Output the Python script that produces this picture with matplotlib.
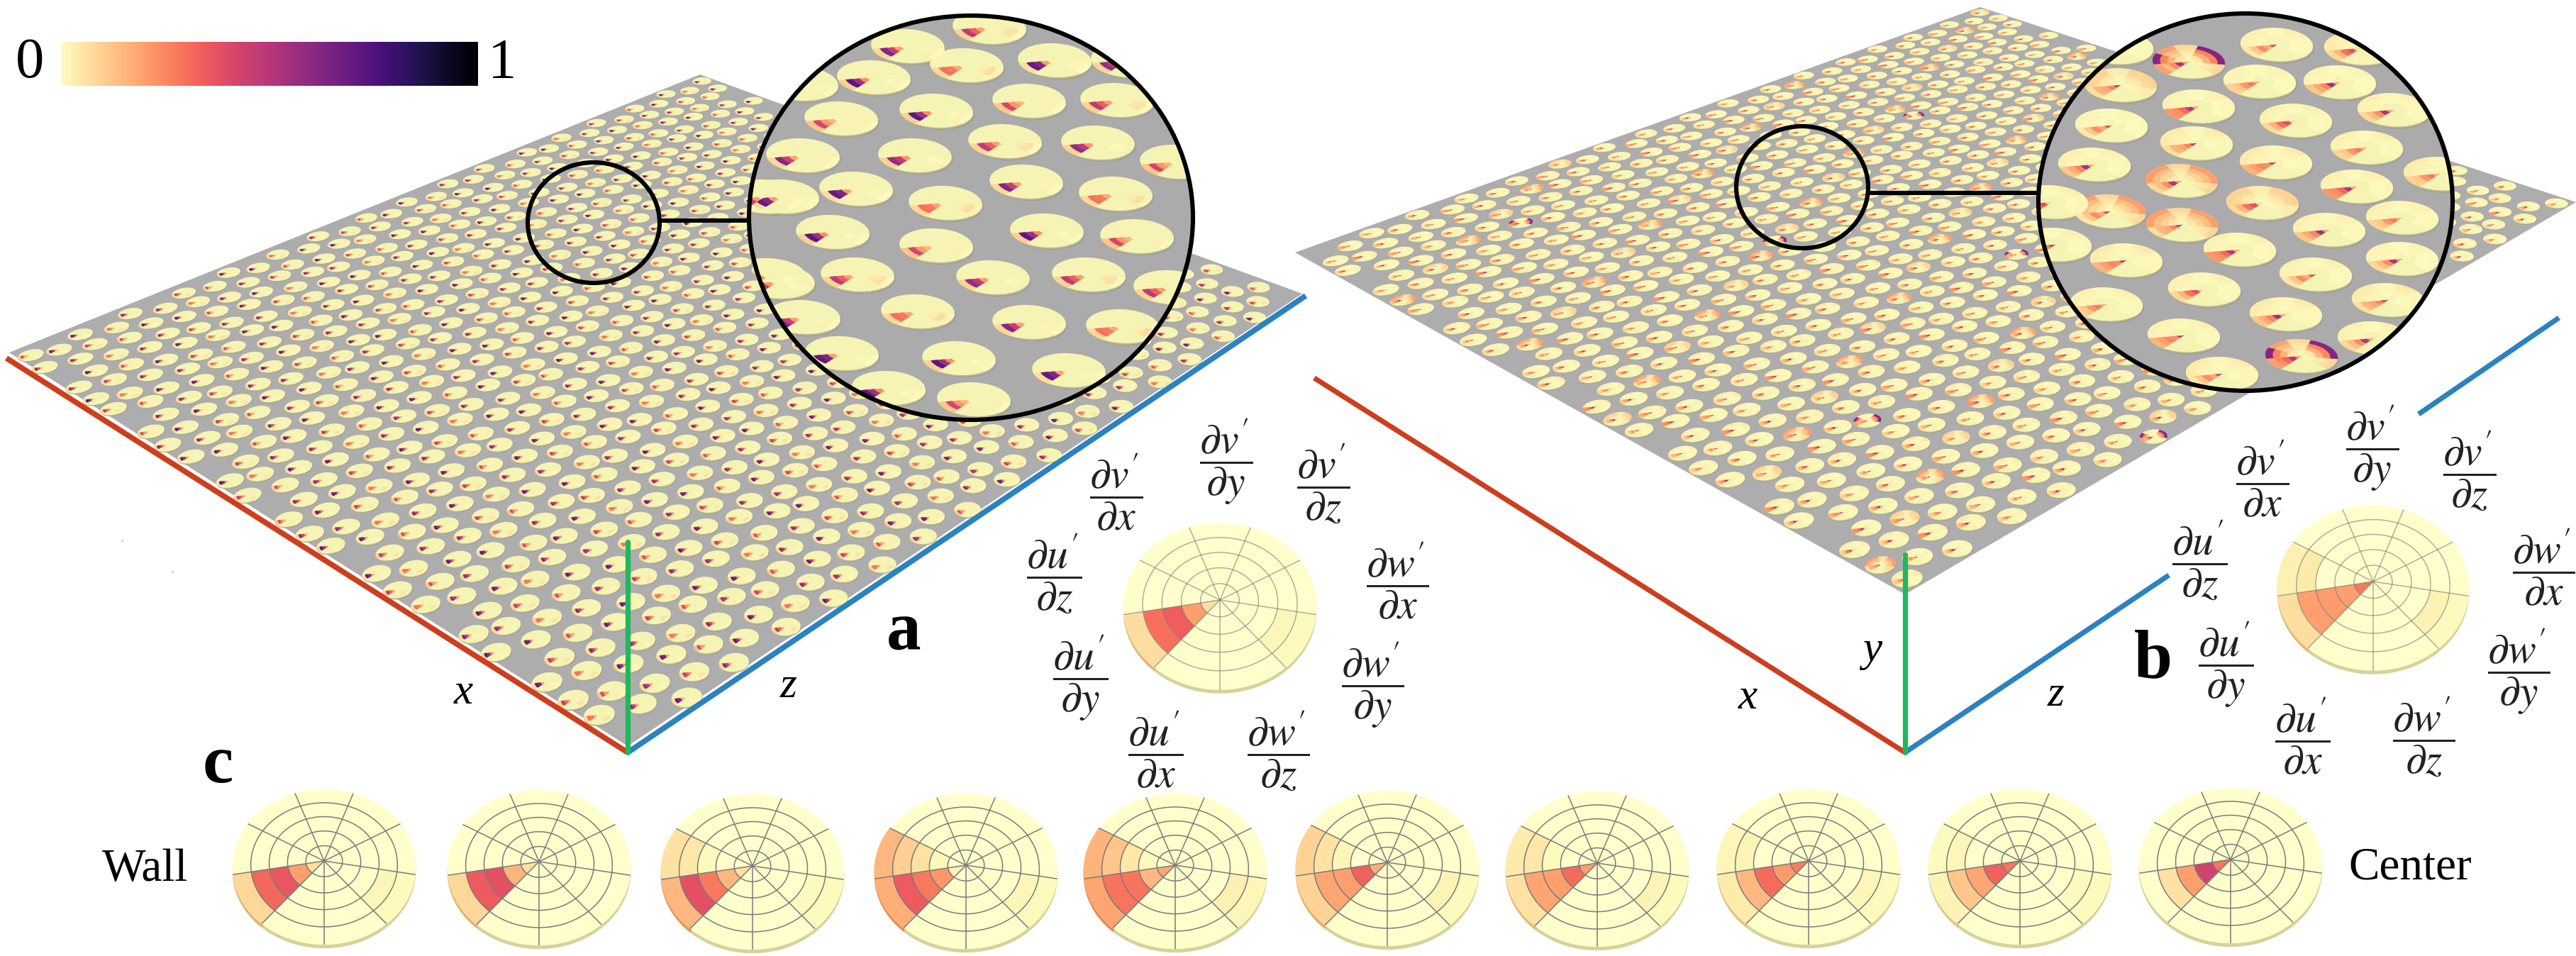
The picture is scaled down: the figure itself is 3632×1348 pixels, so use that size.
"""Flow-gradient glyph figure: two plates of discs, lenses and wall-to-center strip."""

import matplotlib

matplotlib.use("Agg")

import matplotlib.pyplot as plt
import numpy as np
from matplotlib.cm import ScalarMappable
from matplotlib.collections import LineCollection, PolyCollection
from matplotlib.colors import Normalize
from matplotlib.patches import Ellipse, Polygon

plt.rcParams["font.family"] = ["Liberation Serif", "DejaVu Serif"]
plt.rcParams["mathtext.fontset"] = "stix"

WIDTH, HEIGHT = 3632, 1348
CMAP = plt.colormaps["magma_r"]
NORM = Normalize(0, 1)

# sector order, counter-clockwise from the bottom spoke
SECTOR_LABELS = [
    r"$\dfrac{\partial w'}{\partial z}$",
    r"$\dfrac{\partial w'}{\partial y}$",
    r"$\dfrac{\partial w'}{\partial x}$",
    r"$\dfrac{\partial v'}{\partial z}$",
    r"$\dfrac{\partial v'}{\partial y}$",
    r"$\dfrac{\partial v'}{\partial x}$",
    r"$\dfrac{\partial u'}{\partial z}$",
    r"$\dfrac{\partial u'}{\partial y}$",
    r"$\dfrac{\partial u'}{\partial x}$",
]
WZ, WY, WX, VZ, VY, VX, UZ, UY, UX = range(9)

# wall to center strip: values per ring, inner ring first
STRIP_UY = [
    [0.07, 0.20, 0.36, 0.32, 0.08],
    [0.06, 0.16, 0.38, 0.35, 0.08],
    [0.06, 0.15, 0.28, 0.38, 0.15],
    [0.03, 0.22, 0.28, 0.35, 0.17],
    [0.18, 0.15, 0.29, 0.29, 0.19],
    [0.17, 0.33, 0.20, 0.19, 0.09],
    [0.20, 0.31, 0.20, 0.19, 0.06],
    [0.27, 0.21, 0.31, 0.15, 0.04],
    [0.29, 0.33, 0.19, 0.12, 0.02],
    [0.29, 0.43, 0.20, 0.06, 0.00],
]
STRIP_UZ = [
    [0.00, 0.00, 0.00, 0.00, 0.00],
    [0.00, 0.00, 0.00, 0.00, 0.00],
    [0.00, 0.00, 0.006, 0.05, 0.06],
    [0.00, 0.01, 0.06, 0.10, 0.15],
    [0.00, 0.006, 0.05, 0.12, 0.16],
    [0.00, 0.00, 0.012, 0.06, 0.09],
    [0.00, 0.00, 0.006, 0.05, 0.04],
    [0.00, 0.00, 0.00, 0.02, 0.012],
    [0.00, 0.00, 0.00, 0.012, 0.006],
    [0.00, 0.00, 0.00, 0.00, 0.00],
]
STRIP_WY = [
    [0.00, 0.00, 0.00, 0.012, 0.005],
    [0.00, 0.00, 0.00, 0.00, 0.00],
    [0.00, 0.00, 0.00, 0.005, 0.005],
    [0.00, 0.00, 0.00, 0.015, 0.005],
    [0.00, 0.00, 0.00, 0.03, 0.012],
    [0.00, 0.00, 0.00, 0.02, 0.006],
    [0.00, 0.00, 0.00, 0.02, 0.006],
    [0.00, 0.00, 0.00, 0.015, 0.006],
    [0.00, 0.00, 0.00, 0.006, 0.006],
    [0.00, 0.00, 0.00, 0.00, 0.00],
]

# the two large labelled glyphs
GLYPH_A_UY = [0.07, 0.20, 0.34, 0.30, 0.07]
GLYPH_A_UZ = [0.00, 0.00, 0.00, 0.00, 0.00]
GLYPH_A_WY = [0.00, 0.00, 0.00, 0.015, 0.005]
GLYPH_B_UY = [0.28, 0.20, 0.21, 0.20, 0.07]
GLYPH_B_UZ = [0.00, 0.00, 0.00, 0.04, 0.03]
GLYPH_B_WY = [0.00, 0.00, 0.00, 0.025, 0.006]

# glyph looks used on plate a
PLATE_A_UY = [
    [0.02, 0.20, 0.45, 0.62, 0.08],
    [0.02, 0.20, 0.34, 0.48, 0.09],
    [0.03, 0.24, 0.55, 0.72, 0.10],
    [0.02, 0.18, 0.28, 0.30, 0.08],
    [0.02, 0.22, 0.48, 0.58, 0.09],
    [0.01, 0.15, 0.22, 0.42, 0.12],
    [0.03, 0.20, 0.62, 0.70, 0.07],
]
PLATE_A_WY = [
    [0.00, 0.00, 0.02, 0.03, 0.01],
    [0.00, 0.00, 0.05, 0.06, 0.01],
    [0.00, 0.00, 0.01, 0.02, 0.01],
    [0.00, 0.00, 0.04, 0.07, 0.02],
    [0.00, 0.00, 0.01, 0.012, 0.00],
    [0.00, 0.00, 0.03, 0.03, 0.01],
    [0.00, 0.00, 0.012, 0.02, 0.006],
]
# same for plate b, with more activity around the rim
PLATE_B_UY = [
    [0.22, 0.52, 0.24, 0.14, 0.08],
    [0.45, 0.18, 0.24, 0.12, 0.05],
    [0.10, 0.38, 0.30, 0.16, 0.08],
    [0.48, 0.26, 0.18, 0.16, 0.07],
    [0.18, 0.28, 0.22, 0.12, 0.09],
    [0.20, 0.55, 0.26, 0.18, 0.12],
    [0.50, 0.24, 0.25, 0.20, 0.16],
    [0.20, 0.50, 0.32, 0.24, 0.22],
]
PLATE_B_WARM = [
    [0.00, 0.006, 0.012, 0.02, 0.02],
    [0.00, 0.00, 0.012, 0.02, 0.03],
    [0.00, 0.012, 0.02, 0.03, 0.04],
    [0.00, 0.00, 0.006, 0.02, 0.03],
    [0.00, 0.006, 0.012, 0.012, 0.02],
    [0.01, 0.03, 0.05, 0.08, 0.09],
    [0.02, 0.05, 0.09, 0.14, 0.20],
]
PLATE_B_HOT_SECTORS = [VZ, WX, UZ]
PLATE_B_HOT_RING = [0.16, 0.26, 0.62]

# disc centers inside the two lenses
LENS_A_X = [1280, 1363, 1487, 1232, 1130, 1320, 1451, 1575, 1186, 1417, 1548, 1132, 1290, 1447, 1573, 1207, 1333, 1103, 1174, 1320, 1476, 1603, 1209, 1400, 1535, 1097, 1133, 1294, 1451, 1583, 1187, 1352, 1507, 1253, 1373, 1395, 1659, 1650, 1590, 1079, 1085]
LENS_A_Y = [65, 92, 85, 109, 118, 156, 142, 141, 167, 199, 201, 219, 219, 256, 273, 266, 286, 277, 327, 346, 325, 333, 387, 391, 387, 397, 447, 439, 454, 460, 498, 505, 522, 547, 563, 38, 228, 405, 85, 277, 388]
LENS_B_X = [3086, 3210, 3328, 2990, 3186, 3299, 2985, 3100, 3375, 2977, 3237, 3097, 3337, 2953, 3209, 3323, 3076, 2975, 3190, 3077, 3387, 3284, 2998, 3158, 3387, 3265, 3108, 3367, 2970, 3223, 3079, 3245, 3347, 3133, 2893, 2898, 3440]
LENS_B_Y = [87, 63, 68, 120, 115, 116, 67, 150, 155, 177, 170, 202, 208, 232, 229, 263, 255, 298, 286, 317, 307, 324, 367, 352, 365, 387, 408, 423, 429, 443, 473, 502, 477, 527, 285, 345, 245]
# warm level of each lens disc, and the ones with a hot rim
LENS_B_WARM = [6, 1, 2, 5, 0, 4, 1, 1, 1, 4, 1, 2, 1, 1, 2, 1, 6, 6, 5, 6, 1, 1, 2, 1, 4, 1, 1, 2, 1, 2, 1, 6, 1, 2, 1, 1, 2]
LENS_B_HOT = [0, 31]

JITTER_U = [0.002, -0.002, 0.001, 0.0025, -0.001, -0.002, 0.001, 0.000, -0.001, 0.002, -0.0025]
JITTER_V = [-0.001, 0.002, 0.002, -0.002, 0.000, 0.001, -0.002, 0.0025, -0.001, -0.0025, 0.001]

STRIP_HUB_X = [457, 760, 1061, 1362, 1657, 1956, 2252, 2550, 2848, 3145]
STRIP_HUB_Y = [1214, 1215, 1221, 1220, 1220, 1216, 1217, 1214, 1214, 1212]

LABEL_A_X = [1802, 1935, 1970, 1866, 1729, 1574, 1486, 1523, 1629]
LABEL_A_Y = [1058, 965, 818, 681, 650, 693, 808, 955, 1056]
LABEL_B_X = [3417, 3551, 3586, 3482, 3345, 3190, 3101, 3138, 3246]
LABEL_B_Y = [1038, 946, 799, 663, 631, 674, 789, 936, 1037]

PLATE_A = [(987, 105), (1841, 417), (885, 1061), (9, 502)]
PLATE_A_POLY = [(987, 105), (1836, 414), (885, 1052), (13, 497)]
PLATE_B = [(2792, 10), (3632, 285), (2686, 838), (1826, 356)]

RED, BLUE, GREEN = "#cc3f1e", "#2b82c0", "#1fb85c"
GREY = "#adadad"
DISC_FACE = "#f6f4b4"


def homography(corners: list[tuple[float, float]]) -> np.ndarray:
    """Matrix sending the unit square to the four corners."""
    rows, rhs = [], []
    for (u, v), (x, y) in zip(
        [(0, 0), (1, 0), (1, 1), (0, 1)], corners, strict=True
    ):
        rows.append([u, v, 1, 0, 0, 0, -u * x, -v * x])
        rows.append([0, 0, 0, u, v, 1, -u * y, -v * y])
        rhs += [x, y]
    sol = np.linalg.solve(np.array(rows, float), np.array(rhs, float))
    return np.append(sol, 1).reshape(3, 3)


def apply_h(h: np.ndarray, u: np.ndarray, v: np.ndarray) -> np.ndarray:
    w = h[2, 0] * u + h[2, 1] * v + h[2, 2]
    return np.stack(
        [
            (h[0, 0] * u + h[0, 1] * v + h[0, 2]) / w,
            (h[1, 0] * u + h[1, 1] * v + h[1, 2]) / w,
        ],
        axis=-1,
    )


def wedge(r0: float, r1: float, t0: float, t1: float, n: int = 9) -> tuple:
    """Polar outline of one ring piece, as radius and angle arrays."""
    t = np.radians(np.linspace(t0, t1, n))
    return np.r_[np.full(n, r1), np.full(n, r0)], np.r_[t, t[::-1]]


def sector_angles(sector: int) -> tuple[float, float]:
    return -90 + 40 * sector, -50 + 40 * sector


def grid_from(uy, uz=None, wy=None) -> np.ndarray:
    grid = np.zeros((9, 5))
    grid[UY] = uy
    if uz is not None:
        grid[UZ] = uz
    if wy is not None:
        grid[WY] = wy
    return grid


def glyph_wedges(grid: np.ndarray, to_xy) -> tuple[list, list]:
    verts, vals = [], []
    for sector in range(9):
        t0, t1 = sector_angles(sector)
        for ring in range(5):
            if grid[sector, ring] < 0.004:
                continue
            r, t = wedge(ring / 5, (ring + 1) / 5, t0, t1)
            verts.append(to_xy(r, t))
            vals.append(grid[sector, ring])
    return verts, vals


def add_cells(ax, verts, vals, zorder, clip=None) -> None:
    coll = PolyCollection(
        verts, array=np.array(vals), cmap=CMAP, norm=NORM, edgecolors="face",
        linewidths=0.3, zorder=zorder,
    )
    ax.add_collection(coll)
    if clip is not None:
        coll.set_clip_path(clip)


def draw_big_glyph(ax, hub_x, hub_y, grid, rx, ry, grid_alpha=1.0, rim=5) -> None:
    """One strip glyph: a tilted disc seen in perspective, with its grid."""
    persp = 0.0776

    def to_xy(r, t):
        w = 1 + persp * r * np.sin(t)
        return np.c_[hub_x + rx * r * np.cos(t) / w, hub_y - ry * r * np.sin(t) / w]

    t = np.radians(np.linspace(0, 360, 121))
    outline = to_xy(np.ones_like(t), t)
    ax.add_patch(Polygon(outline + [0, rim], fc="#d6d29a", ec="none", zorder=4))
    ax.add_patch(Polygon(outline, fc="#ffffcc", ec="none", zorder=5))

    rim_verts, rim_cols = [], []
    for sector in range(9):
        if grid[sector, 4] >= 0.02:
            t0, t1 = sector_angles(sector)
            r, tt = wedge(0.8, 1, t0, t1)
            rim_verts.append(to_xy(r, tt) + [0, rim])
            col = np.array(CMAP(NORM(grid[sector, 4])))
            rim_cols.append(col * [0.9, 0.82, 0.75, 1])
    ax.add_collection(PolyCollection(rim_verts, facecolors=rim_cols, edgecolors="none", zorder=4.5))

    verts, vals = glyph_wedges(grid, to_xy)
    add_cells(ax, verts, vals, 6)

    lines = [to_xy(np.full_like(t, ring / 5), t) for ring in range(1, 5)]
    for sector in range(9):
        tt = np.radians(sector_angles(sector)[0])
        lines.append(to_xy(np.array([0, 1.0]), np.array([tt, tt])))
    ax.add_collection(
        LineCollection(lines, colors="#7b7b7b", linewidths=1.1, alpha=grid_alpha, zorder=7)
    )


def disc_polys(centers, j_u, j_v, radius, grids, ax, zorder, clip=None, thick=1.4) -> None:
    """Discs on a plate: shadow, rim, face, then the colored cells."""
    t = np.radians(np.linspace(0, 360, 29))
    shadows, rims, faces, verts, vals = [], [], [], [], []
    for c, ju, jv, grid in zip(centers, j_u, j_v, grids, strict=True):
        # angle on the plate that shows up as screen-horizontal
        ang0 = np.arctan2(-ju[1], jv[1])
        axis = ju * np.cos(ang0) + jv * np.sin(ang0)
        if axis[0] < 0:
            ang0 += np.pi

        def to_xy(r, tt, c=c, ju=ju, jv=jv, ang0=ang0):
            a = ang0 - tt
            return c + radius * (np.outer(r * np.cos(a), ju) + np.outer(r * np.sin(a), jv))

        outline = to_xy(np.ones_like(t), t)
        scale = np.ptp(outline[:, 1]) / 25
        shadows.append(outline + [scale * 1.2, scale * (thick + 0.9)])
        rims.append(outline + [0, scale * thick])
        faces.append(outline)
        v, w = glyph_wedges(grid, to_xy)
        verts += v
        vals += w
    groups = [
        (shadows, "#8f8f8f", 0.35, zorder),
        (rims, "#bdb98a", 1.0, zorder + 0.1),
        (faces, DISC_FACE, 1.0, zorder + 0.2),
    ]
    for polys, color, alpha, z in groups:
        coll = PolyCollection(polys, facecolors=color, edgecolors="none", alpha=alpha, zorder=z)
        ax.add_collection(coll)
        if clip is not None:
            coll.set_clip_path(clip)
    add_cells(ax, verts, vals, zorder + 0.3, clip)


def plate_lattice(h, seed_shift=0, rows=33, cols=29):
    centers, j_u, j_v, cells = [], [], [], []
    eps = 1e-4
    for j in range(rows):
        for i in range(cols):
            u = (i + 0.5 + (0.45 if j % 2 else 0)) / cols
            v = (j + 0.5) / rows
            u += JITTER_U[(i * 3 + j * 5 + seed_shift) % len(JITTER_U)]
            v += JITTER_V[(i * 7 + j * 2 + seed_shift) % len(JITTER_V)]
            if not (0.014 < u < 0.986 and 0.014 < v < 0.986):
                continue
            c = apply_h(h, np.array(u), np.array(v))
            j_u.append((apply_h(h, np.array(u + eps), np.array(v)) - c) / eps)
            j_v.append((apply_h(h, np.array(u), np.array(v + eps)) - c) / eps)
            centers.append(c)
            cells.append((i, j))
    return np.array(centers), np.array(j_u), np.array(j_v), cells


def plate_a_grid(k: int) -> np.ndarray:
    k %= len(PLATE_A_UY)
    return grid_from(PLATE_A_UY[k], wy=PLATE_A_WY[k])


def plate_b_grid(look: int, warm: int, hot: bool = False) -> np.ndarray:
    grid = np.zeros((9, 5))
    grid[UY] = PLATE_B_UY[look % len(PLATE_B_UY)]
    level = np.array(PLATE_B_WARM[warm % len(PLATE_B_WARM)])
    for sector in (UZ, VX, VY, VZ, WX, WY):
        if sector in (UZ, VX, VZ) or (warm >= 5 and sector == WX):
            grid[sector] = level
        else:
            grid[sector] = level * 0.4
    if hot:
        for sector in PLATE_B_HOT_SECTORS:
            grid[sector, 2:] = PLATE_B_HOT_RING
        grid[UY, 4] = 0.2
    return grid


def draw_lens(ax, cx, cy, rx, ry, xs, ys, grids, radius_x, radius_y) -> None:
    lens = Ellipse((cx, cy), 2 * rx, 2 * ry, fc="#ababab", ec="none", zorder=10)
    ax.add_patch(lens)
    centers = np.c_[xs, ys].astype(float)
    # a lens is a flat blow-up of the plate, the discs hardly tilt
    j_u = np.tile([radius_x, radius_y * 0.1], (len(xs), 1))
    j_v = np.tile([0.0, radius_y], (len(xs), 1))
    disc_polys(centers, j_u, j_v, 1.0, grids, ax, 11, clip=lens, thick=0.9)
    ax.add_patch(Ellipse((cx, cy), 2 * rx, 2 * ry, fc="none", ec="black", lw=4.4, zorder=13))


def main() -> None:
    fig = plt.figure(figsize=(WIDTH / 100, HEIGHT / 100), dpi=100)
    ax = fig.add_axes([0, 0, 1, 1])
    ax.set_xlim(0, WIDTH)
    ax.set_ylim(HEIGHT, 0)
    ax.axis("off")

    # plate a
    ax.add_patch(Polygon(PLATE_A_POLY, fc=GREY, ec="none", zorder=1))
    h = homography(PLATE_A)
    centers, j_u, j_v, cells = plate_lattice(h)
    grids = [plate_a_grid(i * 2 + j * 3) for i, j in cells]
    disc_polys(centers, j_u, j_v, 0.0128, grids, ax, 2)

    # plate b
    ax.add_patch(Polygon(PLATE_B, fc=GREY, ec="none", zorder=1))
    h = homography(PLATE_B)
    centers, j_u, j_v, cells = plate_lattice(h, seed_shift=4)
    grids = [
        plate_b_grid(
            i + 2 * j,
            (i * 3 + j * 4) % 5 if (i * 5 + j * 3) % 11 else 5 + (i + j) % 2,
            (i * 5 + j * 7) % 97 == 3,
        )
        for i, j in cells
    ]
    disc_polys(centers, j_u, j_v, 0.0128, grids, ax, 2)

    # axis lines
    for (x0, y0), (x1, y1), color, width in [
        ((9, 505), (885, 1061), RED, 5.6),
        ((885, 1061), (1841, 417), BLUE, 5.6),
        ((885, 1061), (885, 764), GREEN, 5.2),
        ((1853, 533), (2686, 1061), RED, 5.2),
        ((2686, 1061), (3058, 811), BLUE, 5.2),
        ((3410, 584), (3608, 448), BLUE, 5.2),
        ((2686, 1061), (2686, 782), GREEN, 5.2),
    ]:
        ax.plot([x0, x1], [y0, y1], color=color, lw=width, zorder=8, solid_capstyle="round" if color == GREEN else "butt")

    # faint specks left of the plate a corner
    ax.scatter([172, 243], [762, 806], s=8, color="#dcdcdc", linewidths=0, zorder=1)

    # lenses and their pointers
    grids = [plate_a_grid(k * 3 + k // 4) for k in range(len(LENS_A_X))]
    draw_lens(ax, 1369, 307, 313, 285, LENS_A_X, LENS_A_Y, grids, 52, 24)
    ax.add_patch(Ellipse((837, 314), 186, 170, fc="none", ec="black", lw=4.4, zorder=9))
    ax.plot([930, 1056], [311, 311], color="black", lw=4.3, zorder=9, solid_capstyle="butt")

    grids = [
        plate_b_grid(k, LENS_B_WARM[k], k in LENS_B_HOT) for k in range(len(LENS_B_X))
    ]
    draw_lens(ax, 3166, 285, 292, 266, LENS_B_X, LENS_B_Y, grids, 51, 23.5)
    ax.add_patch(Ellipse((2541, 264), 186, 172, fc="none", ec="black", lw=4.4, zorder=9))
    ax.plot([2634, 2875], [272, 272], color="black", lw=4.3, zorder=9, solid_capstyle="butt")

    # big labelled glyphs
    draw_big_glyph(ax, 1720, 846, grid_from(GLYPH_A_UY, GLYPH_A_UZ, GLYPH_A_WY), 136, 117, 0.6)
    draw_big_glyph(ax, 3346, 820, grid_from(GLYPH_B_UY, GLYPH_B_UZ, GLYPH_B_WY), 135, 116, 0.6)
    for xs, ys in [(LABEL_A_X, LABEL_A_Y), (LABEL_B_X, LABEL_B_Y)]:
        for x, y, text in zip(xs, ys, SECTOR_LABELS, strict=True):
            ax.text(x, y, text, fontsize=43, color="#222222", ha="center", va="center", zorder=9)

    # wall to center strip
    for k in range(len(STRIP_HUB_X)):
        grid = grid_from(STRIP_UY[k], STRIP_UZ[k], STRIP_WY[k])
        draw_big_glyph(ax, STRIP_HUB_X[k], STRIP_HUB_Y[k], grid, 129, 109)

    # text
    for x, y, s in [(653, 977, "x"), (1112, 968, "z"), (2464, 984, "x"), (2640, 917, "y"), (2899, 980, "z")]:
        ax.text(x, y, s, fontsize=44, style="italic", ha="center", va="center", zorder=9)
    for x, y, s in [(1274, 892, "a"), (3036, 932, "b"), (307, 1080, "c")]:
        ax.text(x, y, s, fontsize=70, weight="bold", ha="center", va="center", zorder=9)
    ax.text(205, 1226, "Wall", fontsize=47, ha="center", va="center", zorder=9)
    ax.text(3398, 1224, "Center", fontsize=47, ha="center", va="center", zorder=9)

    # colorbar
    cax = fig.add_axes([86 / WIDTH, 1 - 121 / HEIGHT, 588 / WIDTH, 62 / HEIGHT])
    bar = fig.colorbar(ScalarMappable(norm=NORM, cmap=CMAP), cax=cax, orientation="horizontal")
    bar.outline.set_visible(False)
    bar.set_ticks([])
    ax.text(42, 90, "0", fontsize=58, ha="center", va="center")
    ax.text(708, 90, "1", fontsize=58, ha="center", va="center")

    fig.savefig("out.png", dpi=100)


main()
